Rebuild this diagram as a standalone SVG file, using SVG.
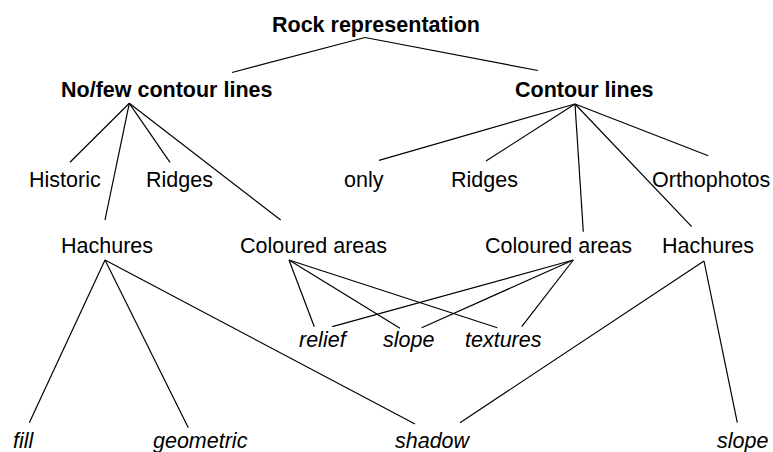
<svg xmlns="http://www.w3.org/2000/svg" width="773" height="452" viewBox="0 0 773 452">
<style>
text{font-family:"Liberation Sans",Arial,sans-serif;font-size:21.5px;fill:#000}
.b{font-weight:bold}
.i{font-style:italic}
#connectors line{stroke:#000;stroke-width:1.2;fill:none}
</style>
<rect width="773" height="452" fill="#fff"/>
<g id="connectors">
<line x1="365" y1="37.5" x2="232" y2="72.5"/>
<line x1="365" y1="37.5" x2="538" y2="70.5"/>
<line x1="129.3" y1="103.3" x2="70" y2="162.3"/>
<line x1="129.3" y1="103.3" x2="170" y2="162.3"/>
<line x1="129.3" y1="103.3" x2="105" y2="220"/>
<line x1="129.3" y1="103.3" x2="280.7" y2="220"/>
<line x1="575" y1="104" x2="379" y2="160.3"/>
<line x1="575" y1="104" x2="486" y2="161"/>
<line x1="575" y1="104" x2="583.3" y2="231.7"/>
<line x1="575" y1="104" x2="691.7" y2="226.7"/>
<line x1="575" y1="104" x2="708.3" y2="155.7"/>
<line x1="105" y1="260" x2="29.3" y2="422.7"/>
<line x1="105" y1="260" x2="188.3" y2="427.7"/>
<line x1="105" y1="260" x2="415" y2="424"/>
<line x1="289" y1="260" x2="314.3" y2="326.7"/>
<line x1="289" y1="260" x2="400" y2="328.3"/>
<line x1="289" y1="260" x2="497.3" y2="327.7"/>
<line x1="573.3" y1="260" x2="332.3" y2="326.7"/>
<line x1="573.3" y1="260" x2="421.7" y2="327.7"/>
<line x1="573.3" y1="260" x2="521.7" y2="326.7"/>
<line x1="704" y1="261" x2="460" y2="422.7"/>
<line x1="704" y1="261" x2="737.3" y2="422.7"/>
</g>
<g id="root"><text class="b" x="272" y="31.7">Rock representation</text></g>
<g id="nofew"><text class="b" x="61" y="96.7">No/few contour lines</text></g>
<g id="contour"><text class="b" x="515" y="96.7">Contour lines</text></g>
<g id="historic"><text x="29" y="186.7">Historic</text></g>
<g id="ridges1"><text x="146" y="186.7">Ridges</text></g>
<g id="only"><text x="344" y="186.7">only</text></g>
<g id="ridges2"><text x="451" y="186.7">Ridges</text></g>
<g id="orthophotos"><text x="652" y="186.7">Orthophotos</text></g>
<g id="hachures1"><text x="61" y="253.3">Hachures</text></g>
<g id="coloured1"><text x="240" y="253.3">Coloured areas</text></g>
<g id="coloured2"><text x="485" y="253.3">Coloured areas</text></g>
<g id="hachures2"><text x="662" y="253.3">Hachures</text></g>
<g id="relief"><text class="i" x="299" y="346.7">relief</text></g>
<g id="slope1"><text class="i" x="383" y="346.7">slope</text></g>
<g id="textures"><text class="i" x="465" y="346.7">textures</text></g>
<g id="fill"><text class="i" x="13" y="447.8">fill</text></g>
<g id="geometric"><text class="i" x="153" y="447.8">geometric</text></g>
<g id="shadow"><text class="i" x="395" y="447.8">shadow</text></g>
<g id="slope2"><text class="i" x="717" y="447.8">slope</text></g>
</svg>
